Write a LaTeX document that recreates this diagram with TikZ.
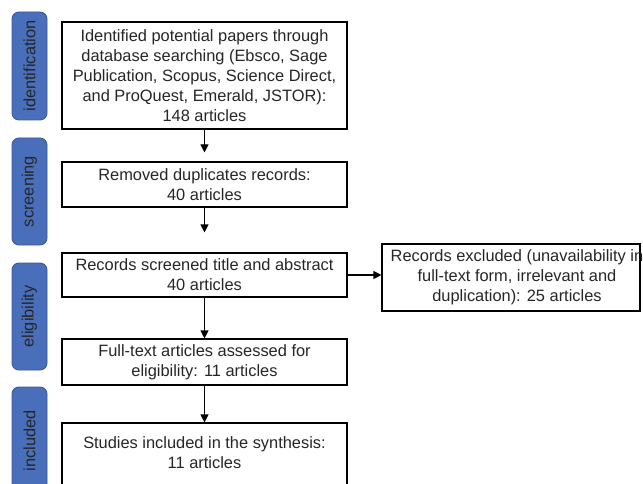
\documentclass[tikz,border=0pt]{standalone}
\usepackage{fontspec}
\setmainfont{Liberation Sans}
\usetikzlibrary{arrows.meta}
\definecolor{phase}{RGB}{74,111,186}
\definecolor{phaseborder}{RGB}{60,90,152}
\definecolor{txt}{RGB}{38,38,38}
\begin{document}
\begin{tikzpicture}[x=1pt,y=-1pt,
  every node/.style={font=\fontsize{16.4}{20}\selectfont, text=txt},
  flowbox/.style={draw=black, line width=1.1pt, fill=white, align=center, inner sep=0pt},
  plainbox/.style={draw=black, line width=1.1pt, inner sep=0pt},
  plaintext/.style={align=center, inner sep=0pt},
  phasebox/.style={draw=phaseborder, fill=phase, line width=0.9pt, rounded corners=7pt, rotate=90, inner sep=0pt, minimum height=35pt},
  flowarrow/.style={line width=1.1pt, -{Triangle[length=8pt,width=8pt]}}]
\useasboundingbox (0,0) rectangle (643,484);
\fill[white] (0,0) rectangle (643,484);

% phase labels
\node[phasebox, minimum width=108pt] (pid) at (29.5,66) {identification};
\node[phasebox, minimum width=107pt] (psc) at (29.5,191.5) {screening};
\node[phasebox, minimum width=107pt] (pel) at (29.5,316.5) {eligibility};
\node[phasebox, minimum width=108pt] (pin) at (29.5,441) {included};

% flow boxes
\node[flowbox, minimum width=285pt, minimum height=107pt] (b1) at (204.5,75.5)
  {Identified potential papers through\\database searching (Ebsco, Sage\\Publication, Scopus, Science Direct,\\and ProQuest, Emerald, JSTOR):\\148 articles};
\node[flowbox, minimum width=285pt, minimum height=45pt] (b2) at (204.5,184.5)
  {Removed duplicates records:\\40 articles};
\node[flowbox, minimum width=285pt, minimum height=44pt] (b3) at (204.5,275)
  {Records screened title and abstract\\40 articles};
\node[flowbox, minimum width=285pt, minimum height=46pt] (b4) at (204.5,362)
  {Full-text articles assessed for\\eligibility: 11 articles};
\node[plainbox, minimum width=285pt, minimum height=70pt] (b5box) at (204.5,458) {};
\node[plaintext] (b5) at (204.5,452.5) {Studies included in the synthesis:\\11 articles};

% excluded
\node[plainbox, minimum width=258pt, minimum height=67pt] (exbox) at (511,277.5) {};
\node[plaintext] (ex) at (517,277) {Records excluded (unavailability in\\full-text form, irrelevant and\\duplication): 25 articles};

% arrows
\draw[flowarrow, shorten >=9pt] (b1.south) -- (b2.north);
\draw[flowarrow, shorten >=20pt] (b2.south) -- (b3.north);
\draw[flowarrow] (b3.south) -- (b4.north);
\draw[flowarrow] (b4.south) -- (b5box.north);
\draw[flowarrow] (b3.east) -- (b3.east -| exbox.west);
\end{tikzpicture}
\end{document}
